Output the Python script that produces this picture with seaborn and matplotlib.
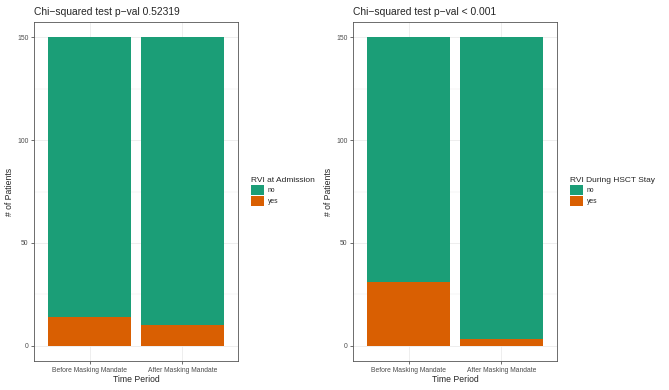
import pandas as pd
import numpy as np
import matplotlib
matplotlib.use("Agg")
import matplotlib.pyplot as plt
import seaborn as sns
from matplotlib.patches import Patch

periods = ["Before Masking Mandate", "After Masking Mandate"]
admission_no = [136, 140]
admission_yes = [14, 10]
stay_no = [119, 147]
stay_yes = [31, 3]
titles = ["Chi\u2212squared test p\u2212val 0.52319", "Chi\u2212squared test p\u2212val < 0.001"]
legend_titles = ["RVI at Admission", "RVI During HSCT Stay"]

green = "#1B9E77"
orange = "#D95F02"

sns.set_style("white")
plt.rcParams['font.family'] = ['Liberation Sans', 'DejaVu Sans']

fig = plt.figure(figsize=(6.69, 3.9), dpi=100)
axes = [fig.add_axes([0.0508, 0.0744, 0.305, 0.869]),
        fig.add_axes([0.5277, 0.0744, 0.305, 0.869])]

for ax, no, yes, title, lt in zip(axes, [admission_no, stay_no], [admission_yes, stay_yes],
                                  titles, legend_titles):
    df = pd.DataFrame({"period": periods, "no": no, "yes": yes})
    df["total"] = df["no"] + df["yes"]
    # stacked: draw total (no on top) then yes at the bottom
    sns.barplot(data=df, x="period", y="total", color=green, width=0.9,
                saturation=1, linewidth=0, ax=ax, zorder=3)
    sns.barplot(data=df, x="period", y="yes", color=orange, width=0.9,
                saturation=1, linewidth=0, ax=ax, zorder=3)
    ax.set_xlim(-0.6, 1.6)
    ax.set_ylim(-7.5, 157.5)
    ax.set_yticks([0, 50, 100, 150])
    ax.set_yticks([25, 75, 125], minor=True)
    ax.grid(True, which="major", color="#EBEBEB", lw=0.6, zorder=0)
    ax.grid(True, which="minor", axis="y", color="#EBEBEB", lw=0.3, zorder=0)
    ax.set_axisbelow(True)
    for s in ax.spines.values():
        s.set_visible(True)
        s.set_color("#555555")
        s.set_linewidth(0.6)
    ax.tick_params(axis="both", which="major", length=2.5, width=0.5, color="#333333",
                   labelsize=4.9, labelcolor="#4D4D4D", pad=1.5, left=True, bottom=True)
    ax.tick_params(axis="both", which="minor", length=0)
    ax.set_xlabel("Time Period", fontsize=6.2, labelpad=1)
    ax.set_ylabel("# of Patients", fontsize=6.2, labelpad=2)
    ax.set_title(title, fontsize=7.4, loc="left", pad=5)
    handles = [Patch(facecolor=green, edgecolor="none", label="no"),
               Patch(facecolor=orange, edgecolor="none", label="yes")]
    ax.legend(handles=handles, title=lt, loc="center left", bbox_to_anchor=(1.05, 0.5),
              frameon=False, fontsize=4.9, title_fontsize=6.0, handlelength=1.9,
              handleheight=1.9, handletextpad=0.6, labelspacing=0.15, alignment="left",
              borderaxespad=0)

fig.savefig("out.png", dpi=100)
